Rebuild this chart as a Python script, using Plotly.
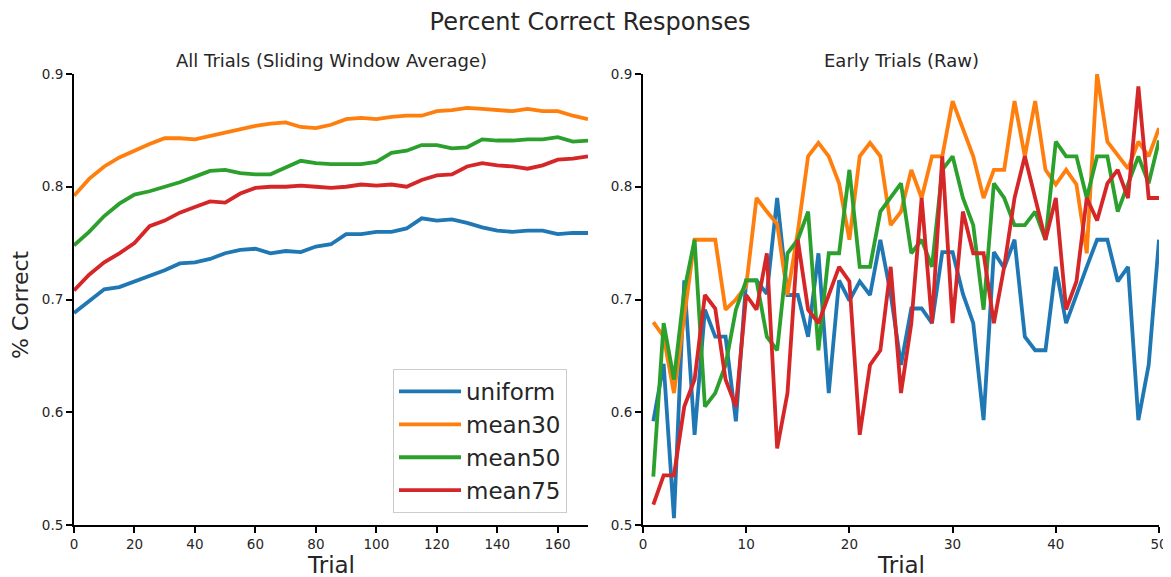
import plotly.graph_objects as go
from plotly.subplots import make_subplots

# ---------------- Data ----------------
series_names = ["uniform", "mean30", "mean50", "mean75"]
colors = ["#1f77b4", "#ff7f0e", "#2ca02c", "#d62728"]

# Left panel: sliding window average
trials_all = [0, 5, 10, 15, 20, 25, 30, 35, 40, 45, 50, 55, 60, 65, 70, 75, 80, 85,
              90, 95, 100, 105, 110, 115, 120, 125, 130, 135, 140, 145, 150, 155, 160, 165, 170]
avg_uniform = [0.688, 0.699, 0.709, 0.711, 0.716, 0.721, 0.726, 0.732, 0.733, 0.736, 0.741, 0.744,
               0.745, 0.741, 0.743, 0.742, 0.747, 0.749, 0.758, 0.758, 0.760, 0.760, 0.763, 0.772,
               0.770, 0.771, 0.768, 0.764, 0.761, 0.760, 0.761, 0.761, 0.758, 0.759, 0.759]
avg_mean30 = [0.792, 0.807, 0.818, 0.826, 0.832, 0.838, 0.843, 0.843, 0.842, 0.845, 0.848, 0.851,
              0.854, 0.856, 0.857, 0.853, 0.852, 0.855, 0.860, 0.861, 0.860, 0.862, 0.863, 0.863,
              0.867, 0.868, 0.870, 0.869, 0.868, 0.867, 0.869, 0.867, 0.867, 0.863, 0.860]
avg_mean50 = [0.748, 0.760, 0.774, 0.785, 0.793, 0.796, 0.800, 0.804, 0.809, 0.814, 0.815, 0.812,
              0.811, 0.811, 0.817, 0.823, 0.821, 0.820, 0.820, 0.820, 0.822, 0.830, 0.832, 0.837,
              0.837, 0.834, 0.835, 0.842, 0.841, 0.841, 0.842, 0.842, 0.844, 0.840, 0.841]
avg_mean75 = [0.708, 0.722, 0.733, 0.741, 0.750, 0.765, 0.770, 0.777, 0.782, 0.787, 0.786, 0.794,
              0.799, 0.800, 0.800, 0.801, 0.800, 0.799, 0.800, 0.802, 0.801, 0.802, 0.800, 0.806,
              0.810, 0.811, 0.818, 0.821, 0.819, 0.818, 0.816, 0.819, 0.824, 0.825, 0.827]

# Right panel: early trials raw
trials_early = list(range(1, 51))
raw_uniform = [0.592, 0.643, 0.506, 0.717, 0.580, 0.691, 0.667, 0.667, 0.592, 0.717,
               0.717, 0.705, 0.790, 0.704, 0.704, 0.667, 0.741, 0.617, 0.717, 0.699,
               0.716, 0.704, 0.753, 0.705, 0.642, 0.692, 0.692, 0.679, 0.742, 0.742,
               0.705, 0.679, 0.593, 0.742, 0.728, 0.753, 0.667, 0.655, 0.655, 0.729,
               0.679, 0.705, 0.729, 0.753, 0.753, 0.716, 0.729, 0.593, 0.642, 0.753]
raw_mean30 = [0.680, 0.667, 0.617, 0.685, 0.753, 0.753, 0.753, 0.691, 0.700, 0.712,
              0.790, 0.778, 0.767, 0.704, 0.760, 0.827, 0.839, 0.827, 0.803, 0.753,
              0.827, 0.839, 0.827, 0.766, 0.778, 0.815, 0.790, 0.827, 0.827, 0.876,
              0.852, 0.827, 0.790, 0.815, 0.815, 0.876, 0.827, 0.876, 0.815, 0.802,
              0.815, 0.802, 0.741, 0.900, 0.840, 0.828, 0.816, 0.840, 0.827, 0.852]
raw_mean50 = [0.543, 0.679, 0.629, 0.708, 0.753, 0.605, 0.617, 0.642, 0.691, 0.717,
              0.717, 0.667, 0.655, 0.741, 0.753, 0.778, 0.655, 0.741, 0.741, 0.815,
              0.729, 0.729, 0.778, 0.790, 0.803, 0.741, 0.753, 0.729, 0.815, 0.827,
              0.790, 0.766, 0.691, 0.803, 0.790, 0.766, 0.766, 0.778, 0.753, 0.840,
              0.827, 0.827, 0.790, 0.827, 0.827, 0.778, 0.803, 0.827, 0.803, 0.841]
raw_mean75 = [0.518, 0.544, 0.544, 0.605, 0.629, 0.704, 0.692, 0.629, 0.605, 0.704,
              0.691, 0.741, 0.568, 0.617, 0.753, 0.691, 0.679, 0.704, 0.729, 0.716,
              0.580, 0.642, 0.655, 0.729, 0.617, 0.679, 0.790, 0.679, 0.827, 0.679,
              0.778, 0.741, 0.741, 0.679, 0.729, 0.790, 0.827, 0.790, 0.753, 0.790,
              0.691, 0.716, 0.790, 0.770, 0.803, 0.815, 0.790, 0.889, 0.790, 0.790]

avg_series = [avg_uniform, avg_mean30, avg_mean50, avg_mean75]
raw_series = [raw_uniform, raw_mean30, raw_mean50, raw_mean75]

y_ticks = [0.5, 0.6, 0.7, 0.8, 0.9]

# ---------------- Figure ----------------
OFF = 8                      # page body margin offset of the plot div
W, H = 1171 - OFF, 577 - OFF
ML, MR, MT, MB = 74 - OFF, 12, 74 - OFF, 52
pw = W - ML - MR
ph = H - MT - MB
TXT = "#262626"
FONT = "DejaVu Sans"

fig = make_subplots(rows=1, cols=2, horizontal_spacing=0.05)

for name, col, ys in zip(series_names, colors, avg_series):
    fig.add_trace(go.Scatter(x=trials_all, y=ys, mode="lines", name=name,
                             showlegend=True,
                             line=dict(color=col, width=3.8)), row=1, col=1)
for name, col, ys in zip(series_names, colors, raw_series):
    fig.add_trace(go.Scatter(x=trials_early, y=ys, mode="lines", name=name,
                             showlegend=False,
                             line=dict(color=col, width=3.8)), row=1, col=2)


def px_x(p):
    """page pixel x -> paper coordinate"""
    return (p - OFF - ML) / pw


def px_y(p):
    """page pixel y -> paper coordinate"""
    return (H - MB - (p - OFF)) / ph


left_dom = [px_x(74), px_x(588)]
right_dom = [px_x(643), px_x(1159)]

axis_common = dict(showline=True, linecolor="black", linewidth=2, ticks="outside",
                   ticklen=6, tickwidth=1.5, tickcolor="black", showgrid=False,
                   zeroline=False, mirror=False, automargin=False,
                   tickfont=dict(family=FONT, size=13.5, color=TXT))

fig.update_xaxes(**axis_common)
fig.update_yaxes(**axis_common)

fig.update_xaxes(domain=left_dom, range=[0, 170], tickvals=[0, 20, 40, 60, 80, 100, 120, 140, 160],
                 row=1, col=1)
fig.update_xaxes(domain=right_dom, range=[0, 50], tickvals=[0, 10, 20, 30, 40, 50], row=1, col=2)
fig.update_yaxes(range=[0.5, 0.9], tickvals=y_ticks, ticktext=[f"{v:.1f}" for v in y_ticks],
                 row=1, col=1)
fig.update_yaxes(range=[0.5, 0.9], tickvals=y_ticks, ticktext=[f"{v:.1f}" for v in y_ticks],
                 row=1, col=2)

annotations = [
    dict(text="All Trials (Sliding Window Average)", x=sum(left_dom) / 2, y=px_y(60),
         xref="paper", yref="paper", xanchor="center", yanchor="middle", showarrow=False,
         font=dict(family=FONT, size=18, color=TXT)),
    dict(text="Early Trials (Raw)", x=sum(right_dom) / 2, y=px_y(60),
         xref="paper", yref="paper", xanchor="center", yanchor="middle", showarrow=False,
         font=dict(family=FONT, size=18, color=TXT)),
    dict(text="Trial", x=sum(left_dom) / 2, y=px_y(565),
         xref="paper", yref="paper", xanchor="center", yanchor="middle", showarrow=False,
         font=dict(family=FONT, size=23, color=TXT)),
    dict(text="Trial", x=sum(right_dom) / 2, y=px_y(565),
         xref="paper", yref="paper", xanchor="center", yanchor="middle", showarrow=False,
         font=dict(family=FONT, size=23, color=TXT)),
    dict(text="% Correct", x=px_x(20), y=px_y(305), textangle=-90,
         xref="paper", yref="paper", xanchor="center", yanchor="middle", showarrow=False,
         font=dict(family=FONT, size=22, color=TXT)),
]

fig.update_layout(
    width=W, height=H,
    margin=dict(l=ML, r=MR, t=MT, b=MB),
    plot_bgcolor="white", paper_bgcolor="white",
    font=dict(family=FONT, color=TXT),
    annotations=annotations,
    title=dict(text="Percent Correct Responses", x=px_x(590) * pw / W + ML / W, xanchor="center",
               y=1 - (22 - OFF) / H, yanchor="middle",
               font=dict(family=FONT, size=24, color=TXT)),
    legend=dict(x=px_x(393), y=px_y(513), xanchor="left", yanchor="bottom",
                bgcolor="rgba(255,255,255,0.8)", bordercolor="#cccccc", borderwidth=1,
                font=dict(family=FONT, size=23, color=TXT),
                itemwidth=62),
    showlegend=True,
)

fig.write_html("out.html")
